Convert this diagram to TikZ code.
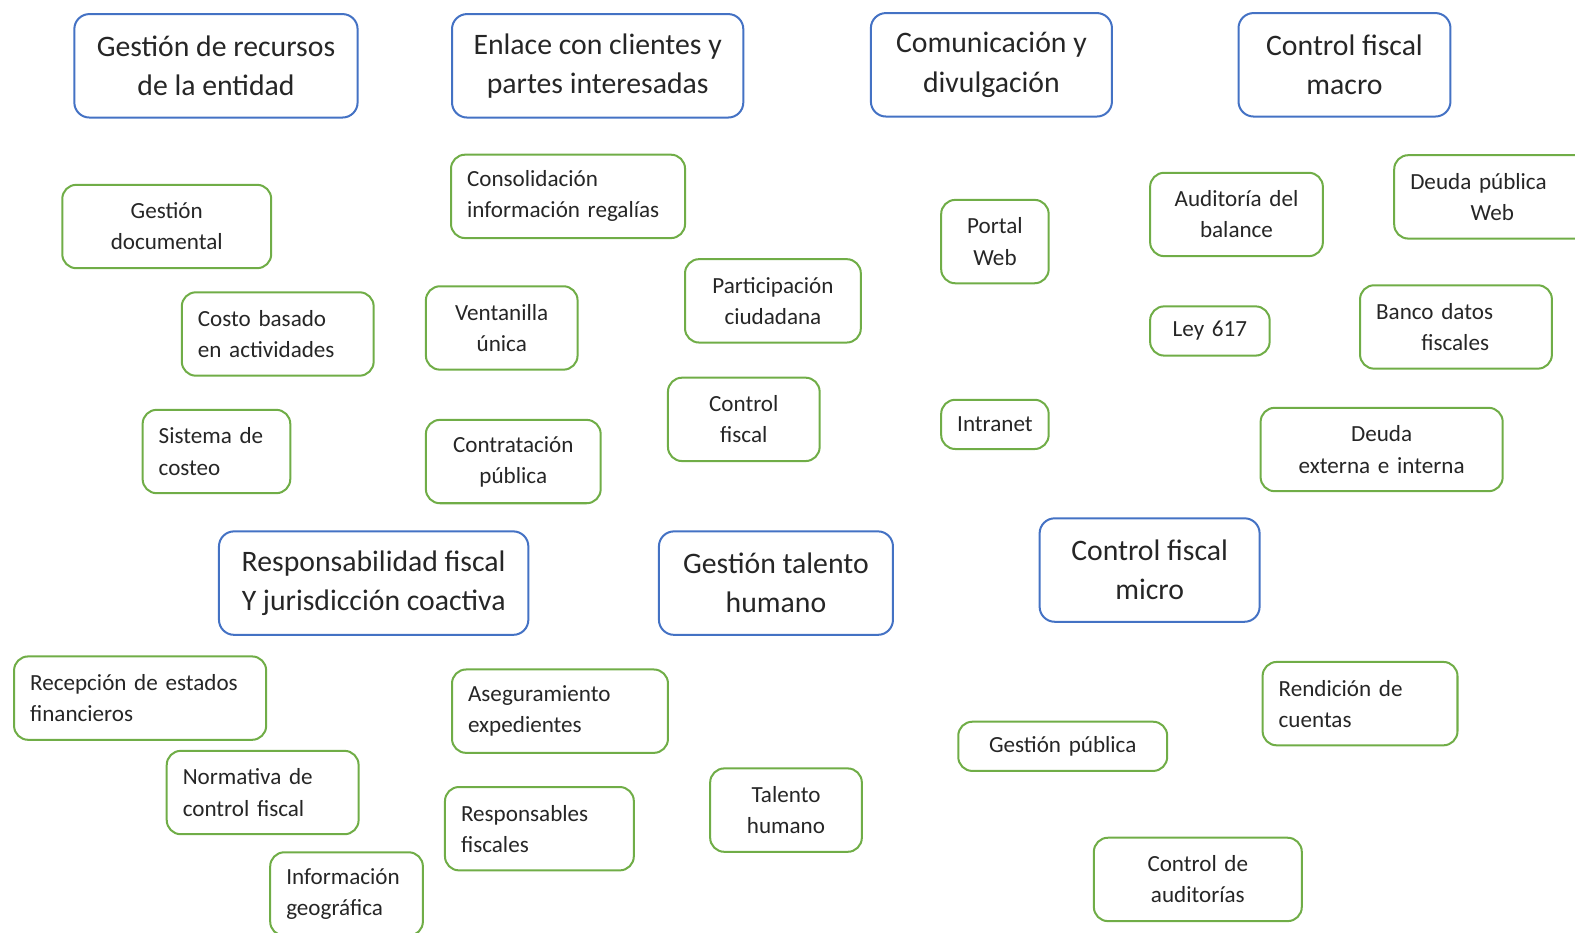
\documentclass[tikz,border=0pt]{standalone}
\usepackage{fontspec}
\setmainfont{Carlito}
\usepackage{tikz}
\usetikzlibrary{positioning}
\definecolor{areablue}{HTML}{4472C4}
\definecolor{itemgreen}{HTML}{70AD47}
\newcommand{\anode}[4]{\node(#1)[areabox,minimum width=#2] at (#3) {#4}}
\newcommand{\inode}[5]{\node(#1)[#2,text width=#3] at (#4) {#5}}

\begin{document}
\begin{tikzpicture}[
        x=0.5pt, y=-0.5pt,
        every node/.style={text=black!85},
        areabox/.style={rectangle,align=center,minimum height=51.5pt,
                        rounded corners=7.5pt,line width=1pt,draw=areablue,
                        font=\fontsize{14.8pt}{19.5pt}\selectfont},
        itembox/.style={rectangle,align=center,inner xsep=8pt,minimum height=41.5pt,
                        rounded corners=7pt,line width=1pt,draw=itemgreen,
                        font=\fontsize{11.5pt}{15.5pt}\selectfont},
        itemleft/.style={itembox,align=left},
        itemlow/.style={itembox,minimum height=24.5pt}
      ]
      \clip (0,0) rectangle (1568,928);
      % main areas
      \anode{recursos}{141pt}{215,65.5}{Gestión de recursos\\de la entidad};
      \anode{enlace}{145pt}{595,65.5}{Enlace con clientes y\\partes interesadas};
      \anode{comunic}{120pt}{987,64.5}{Comunicación y\\divulgación};
      \anode{macro}{105.5pt}{1338.5,64.5}{Control fiscal\\macro};
      \anode{respfis}{154pt}{372,580.5}{Responsabilidad fiscal\\Y jurisdicción coactiva};
      \anode{talentoh}{116.5pt}{772.5,580.5}{Gestión talento\\humano};
      \anode{micro}{109.5pt}{1144.5,567.5}{Control fiscal\\micro};
      % systems
      \inode{gdoc}{itembox}{88pt}{166,225.5}{Gestión\\documental};
      \inode{costo}{itemleft}{79.5pt}{276.5,332.5}{Costo basado\\en actividades};
      \inode{sistema}{itemleft}{57.5pt}{215.5,449.5}{Sistema de\\costeo};
      \inode{consol}{itemleft}{100.5pt}{565.5,195.5}{Consolidación\\información regalías};
      \inode{ventan}{itembox}{59.5pt}{499.5,326.5}{Ventanilla\\única};
      \inode{contrat}{itembox}{71pt}{511,459.5}{Contratación\\pública};
      \inode{partic}{itembox}{71.5pt}{769.5,299.5}{Participación\\ciudadana};
      \inode{ctrlf}{itembox}{59.5pt}{740.5,417.5}{Control\\fiscal};
      \inode{portal}{itembox,inner xsep=6.75pt}{40pt}{990.5,240.5}{Portal\\Web};
      \inode{intranet}{itemlow,inner xsep=6.75pt}{40pt}{990.5,422.5}{Intranet};
      \inode{auditb}{itembox}{70pt}{1231,213.5}{Auditoría del\\balance};
      \inode{ley}{itemlow}{43.5pt}{1204.5,329.5}{Ley 617};
      \inode{deudaw}{itemleft}{85pt}{1489,196}{Deuda pública\\\hspace*{30pt}Web};
      \inode{banco}{itemleft}{79.5pt}{1449.5,325.5}{Banco datos\\\hspace*{22.5pt}fiscales};
      \inode{deudaei}{itembox}{104.5pt}{1375.5,447.5}{Deuda\\externa e interna};
      \inode{recep}{itemleft}{109.5pt}{139.5,695}{Recepción de estados\\financieros};
      \inode{normat}{itemleft}{79.5pt}{261.5,789}{Normativa de\\control fiscal};
      \inode{infgeo}{itemleft}{60pt}{345,890}{Información\\geográfica};
      \inode{asegur}{itemleft}{91.5pt}{557.5,708}{Aseguramiento\\expedientes};
      \inode{respons}{itemleft}{78pt}{537,825}{Responsables\\fiscales};
      \inode{talento}{itembox}{59.5pt}{782.5,806.5}{Talento\\humano};
      \inode{gpub}{itemlow}{88pt}{1058,743}{Gestión pública};
      \inode{rendic}{itemleft}{81pt}{1354,700.5}{Rendición de\\cuentas};
      \inode{ctrlaud}{itembox}{87.5pt}{1192.5,875.5}{Control de\\auditorías};
    \end{tikzpicture}
\end{document}
